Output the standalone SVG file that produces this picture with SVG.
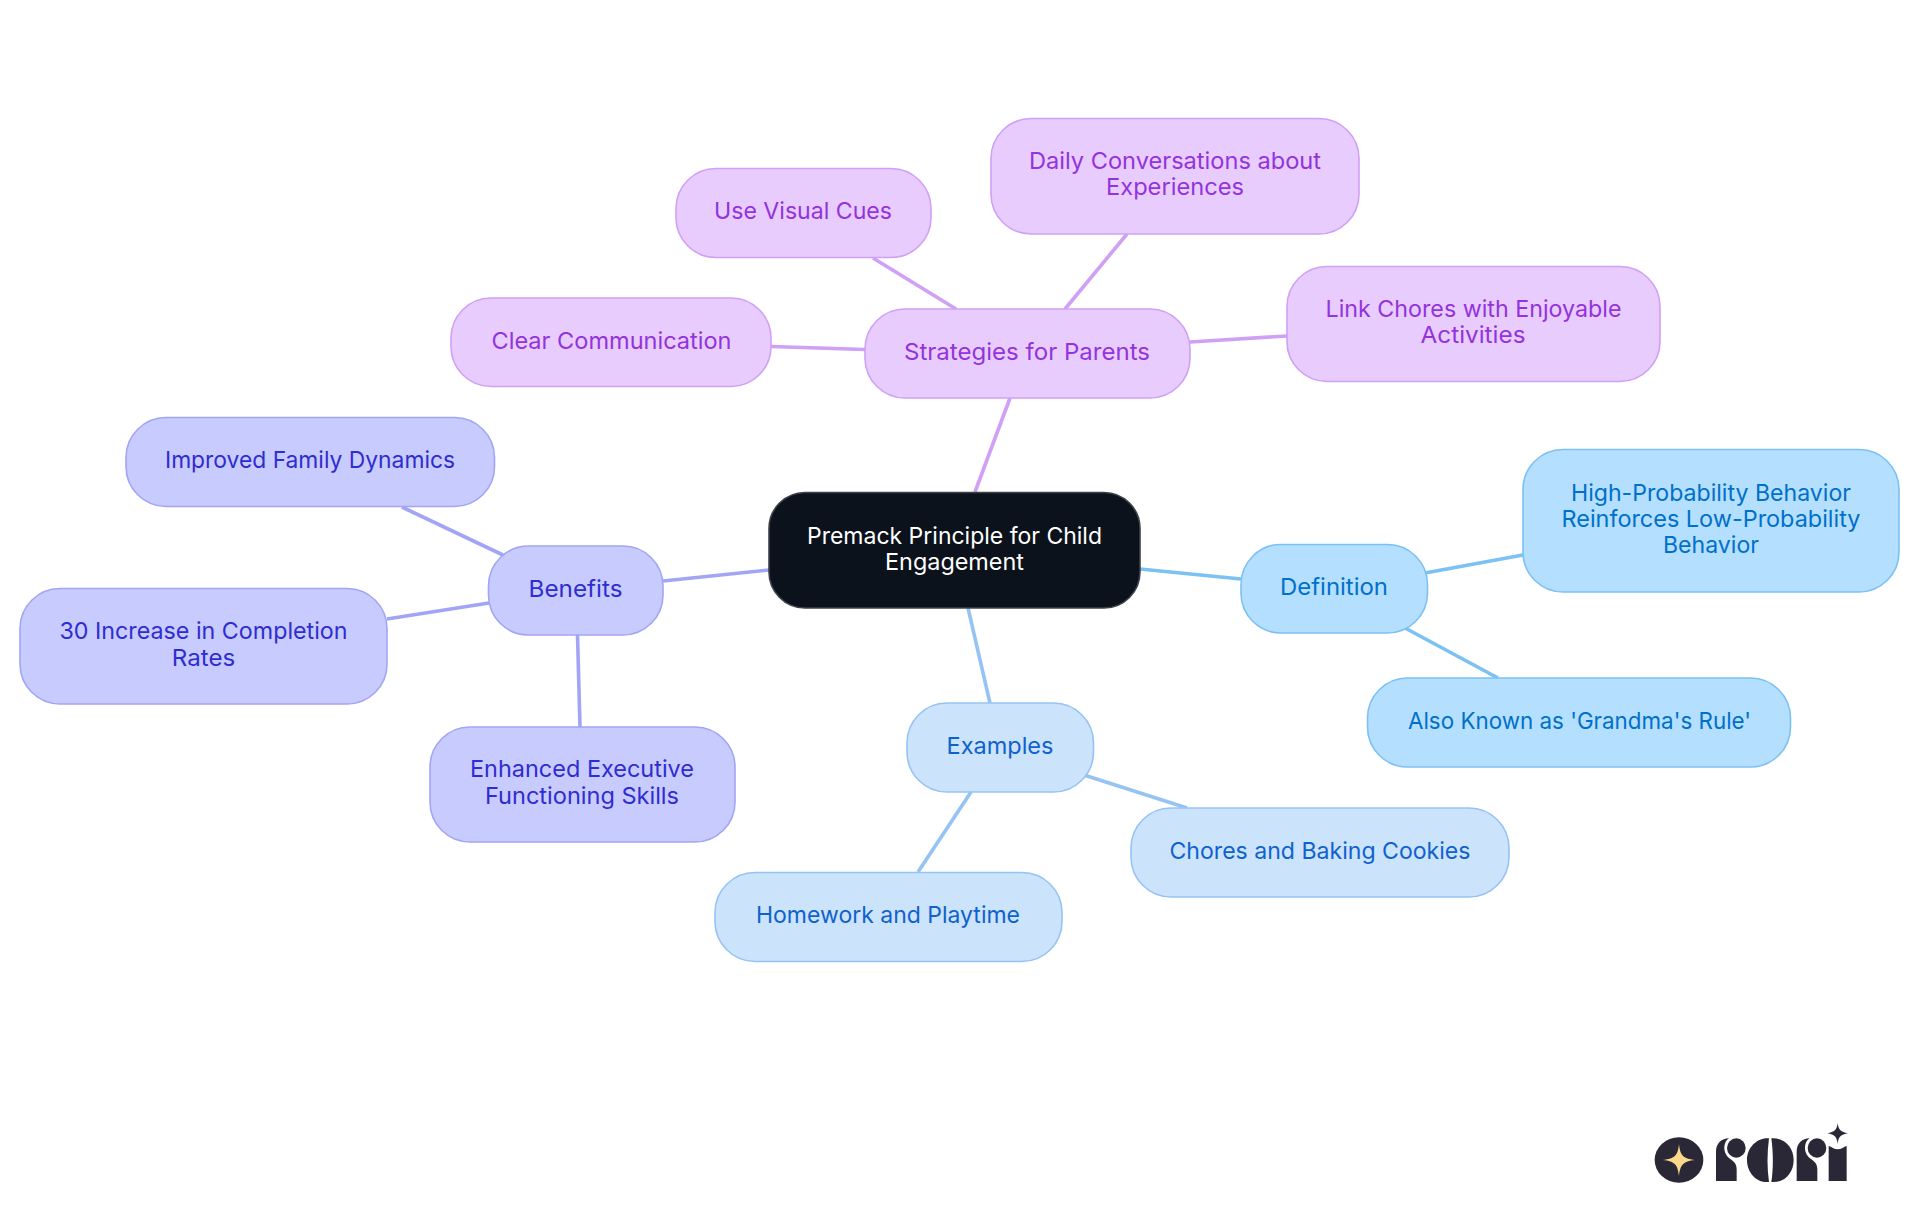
<svg xmlns="http://www.w3.org/2000/svg" width="1920" height="1215" viewBox="0 0 1920 1215">
<style>
text{font-family:"Inter","Liberation Sans",sans-serif;font-size:23.5px;font-weight:400;text-anchor:middle}
rect{stroke-width:1.6}
.c path{fill:none;stroke-width:3.6;stroke-linecap:butt}
.root rect{fill:#0c121b;stroke:#3e4249}
.root text{fill:#fff}
.d rect{fill:#b4dffe;stroke:#7cc1f3}
.d text{fill:#0070c9}
.e rect{fill:#cce3fc;stroke:#95c3f3}
.e text{fill:#0f62cc}
.b rect{fill:#c8cbfe;stroke:#a2a5f5}
.b text{fill:#2f2dd0}
.s rect{fill:#e8ccfe;stroke:#cfa0f5}
.s text{fill:#9333dc}
.ds{stroke:#7cc1f3}.es{stroke:#95c3f3}.bs{stroke:#a2a5f5}.ss{stroke:#cfa0f5}
</style>
<rect width="1920" height="1215" fill="#fff" stroke="none"/>
<g id="connectors" class="c">
<path class="ss" d="M975 492L1010 398"/>
<path class="ss" d="M1127 234L1065 309"/>
<path class="ss" d="M873 258L956 309"/>
<path class="ss" d="M771 346.500L865 349.500"/>
<path class="ss" d="M1190 342L1287 336"/>
<path class="ds" d="M1140 569L1241 579"/>
<path class="ds" d="M1425 573L1523 555"/>
<path class="ds" d="M1405 628L1498 678"/>
<path class="es" d="M968 608L990 703"/>
<path class="es" d="M1084 775L1187 808"/>
<path class="es" d="M971 792L918 872"/>
<path class="bs" d="M769 570L663 581"/>
<path class="bs" d="M402 507L503 555"/>
<path class="bs" d="M387 619L489 603"/>
<path class="bs" d="M577.500 635L580 727"/>
</g>
<g id="root" class="root"><rect x="769" y="492.500" width="371" height="115.500" rx="36"/><text x="954.500" y="543.700" textLength="295" lengthAdjust="spacingAndGlyphs">Premack Principle for Child</text><text x="954.500" y="569.700" textLength="139" lengthAdjust="spacingAndGlyphs">Engagement</text></g>
<g id="definition" class="d"><rect x="1241" y="544.500" width="186.500" height="88.500" rx="40"/><text x="1334" y="595" textLength="108" lengthAdjust="spacingAndGlyphs">Definition</text></g>
<g id="high-prob" class="d"><rect x="1523" y="449.500" width="376" height="142.500" rx="40"/><text x="1711" y="501" textLength="280" lengthAdjust="spacingAndGlyphs">High-Probability Behavior</text><text x="1711" y="527" textLength="299" lengthAdjust="spacingAndGlyphs">Reinforces Low-Probability</text><text x="1711" y="553" textLength="96" lengthAdjust="spacingAndGlyphs">Behavior</text></g>
<g id="grandma" class="d"><rect x="1367.500" y="678" width="423" height="89" rx="40"/><text x="1579.500" y="729" textLength="343" lengthAdjust="spacingAndGlyphs">Also Known as 'Grandma's Rule'</text></g>
<g id="examples" class="e"><rect x="907" y="703" width="186.500" height="89" rx="40"/><text x="1000" y="754" textLength="107" lengthAdjust="spacingAndGlyphs">Examples</text></g>
<g id="chores" class="e"><rect x="1131" y="808" width="378" height="89" rx="40"/><text x="1320" y="859" textLength="301" lengthAdjust="spacingAndGlyphs">Chores and Baking Cookies</text></g>
<g id="homework" class="e"><rect x="715" y="872.500" width="347" height="89" rx="40"/><text x="888" y="923" textLength="264" lengthAdjust="spacingAndGlyphs">Homework and Playtime</text></g>
<g id="benefits" class="b"><rect x="488.500" y="546" width="174.500" height="89" rx="40"/><text x="575.500" y="597" textLength="94" lengthAdjust="spacingAndGlyphs">Benefits</text></g>
<g id="improved" class="b"><rect x="126" y="417.500" width="368.500" height="89" rx="40"/><text x="310" y="468" textLength="290" lengthAdjust="spacingAndGlyphs">Improved Family Dynamics</text></g>
<g id="increase" class="b"><rect x="20" y="588.500" width="367" height="115.500" rx="40"/><text x="203.500" y="639" textLength="288" lengthAdjust="spacingAndGlyphs">30 Increase in Completion</text><text x="203.500" y="666" textLength="63.500" lengthAdjust="spacingAndGlyphs">Rates</text></g>
<g id="executive" class="b"><rect x="430" y="727" width="305" height="115" rx="40"/><text x="582" y="777" textLength="224" lengthAdjust="spacingAndGlyphs">Enhanced Executive</text><text x="582" y="804" textLength="194" lengthAdjust="spacingAndGlyphs">Functioning Skills</text></g>
<g id="strategies" class="s"><rect x="865" y="309" width="325" height="89" rx="40"/><text x="1027" y="360" textLength="246" lengthAdjust="spacingAndGlyphs">Strategies for Parents</text></g>
<g id="clear" class="s"><rect x="451" y="298" width="320" height="88.500" rx="40"/><text x="611.500" y="349" textLength="240" lengthAdjust="spacingAndGlyphs">Clear Communication</text></g>
<g id="visual" class="s"><rect x="676" y="168.500" width="255" height="89" rx="40"/><text x="803" y="219" textLength="178" lengthAdjust="spacingAndGlyphs">Use Visual Cues</text></g>
<g id="daily" class="s"><rect x="991" y="118.500" width="368" height="115.500" rx="40"/><text x="1175" y="169" textLength="292" lengthAdjust="spacingAndGlyphs">Daily Conversations about</text><text x="1175" y="195" textLength="138" lengthAdjust="spacingAndGlyphs">Experiences</text></g>
<g id="link" class="s"><rect x="1287" y="266.500" width="373" height="115" rx="40"/><text x="1473.500" y="317" textLength="296" lengthAdjust="spacingAndGlyphs">Link Chores with Enjoyable</text><text x="1473" y="343" textLength="105" lengthAdjust="spacingAndGlyphs">Activities</text></g>
<g id="logo" transform="translate(1600 1090) scale(.33333)">
<ellipse cx="237" cy="210" rx="73" ry="68" fill="#2a2836"/>
<path d="M237 163C241 197 249 206 285 210C249 214 241 224 237 258C233 224 225 214 189 210C225 206 233 197 237 163Z" fill="#fbd88a"/>
<g fill="#2a2836">
<path d="M348 273V185C348 160 365 145 387 145C370 155 368 185 383 200C395 212 410 215 410 238V273Z"/>
<ellipse cx="409" cy="174" rx="28" ry="29"/>
<path d="M507 145C501 190 501 235 507 276C472 280 441 250 441 210C441 172 472 142 507 145Z"/>
<path d="M514 145C520 190 520 235 514 276C552 280 581 250 581 210C581 172 552 142 514 145Z"/>
<path d="M590 273V185C590 160 607 145 629 145C612 155 610 185 625 200C637 212 652 215 652 238V273Z"/>
<ellipse cx="651" cy="174" rx="28" ry="29"/>
<path d="M686 273V168C695 170 702 178 713 178C724 178 732 170 740 168V273Z"/>
<path d="M713 100C716 120 722 126 744 130C722 134 716 140 713 161C710 140 704 134 682 130C704 126 710 120 713 100Z"/>
</g>
</g>
</svg>
